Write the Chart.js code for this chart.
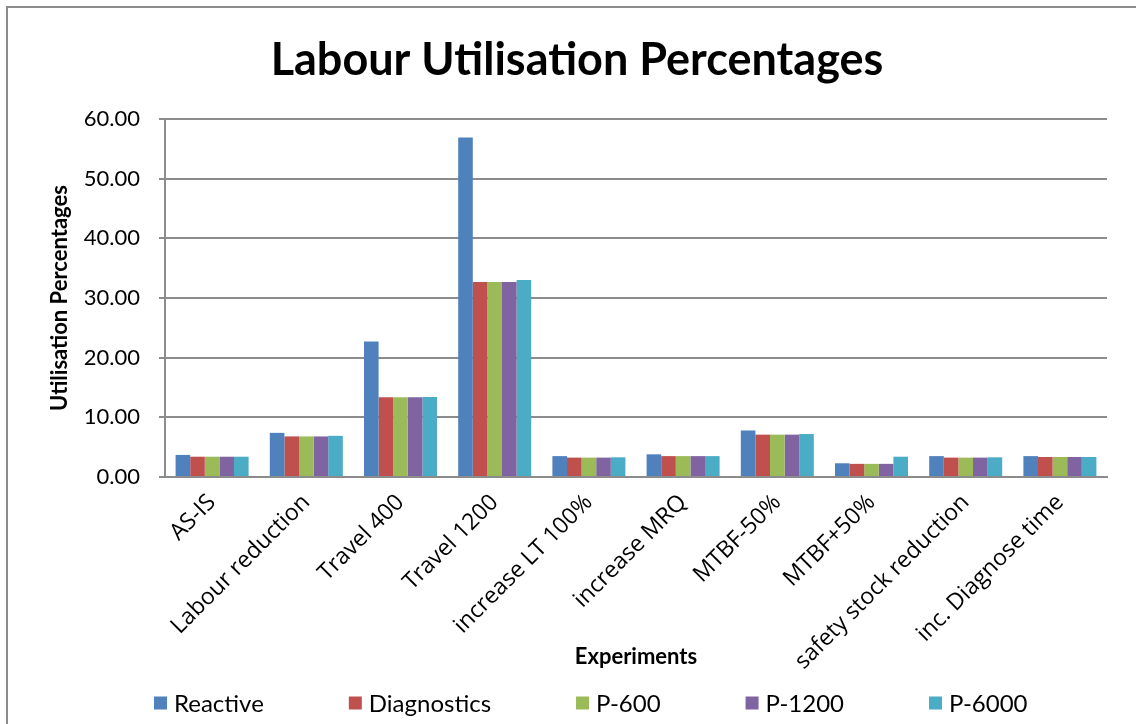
<!DOCTYPE html>
<html>
<head>
<meta charset="utf-8">
<script src="https://cdn.jsdelivr.net/npm/chart.js@4/dist/chart.umd.min.js"></script>
<style>
  html, body { margin: 0; padding: 0; background: #fff; overflow: hidden; }
  #marco { position: absolute; left: 6px; top: 6px; width: 1200px; height: 800px; border: 2px solid #8c8c8c; }
  #wrap { position: absolute; left: 0; top: 0; width: 1136px; height: 724px; }
</style>
</head>
<body>
<div id="marco"></div>
<div id="wrap"><canvas id="chartUtilizacion" width="1136" height="724"></canvas></div>
<script>
var experimentos = ['AS-IS', 'Labour reduction', 'Travel 400', 'Travel 1200', 'increase LT 100%',
                    'increase MRQ', 'MTBF-50%', 'MTBF+50%', 'safety stock reduction', 'inc. Diagnose time'];

var reactive    = [3.70, 7.40, 22.70, 56.90, 3.50, 3.80, 7.80, 2.30, 3.50, 3.50];
var diagnostics = [3.40, 6.80, 13.35, 32.70, 3.25, 3.50, 7.10, 2.20, 3.25, 3.35];
var p600        = [3.40, 6.80, 13.35, 32.70, 3.25, 3.50, 7.10, 2.20, 3.25, 3.35];
var p1200       = [3.40, 6.80, 13.35, 32.70, 3.25, 3.50, 7.10, 2.20, 3.25, 3.35];
var p6000       = [3.40, 6.90, 13.40, 33.00, 3.30, 3.50, 7.20, 3.40, 3.30, 3.35];

var colores = ['#4f81bd', '#c0504d', '#9bbb59', '#8064a2', '#4bacc6'];
var fuente = 'Lato, "Open Sans", sans-serif';
var fuenteEtiquetas = '"Open Sans", Lato, sans-serif';
var gris = '#8c8c8c';

function serie(nombre, datos, i) {
    return { label: nombre, data: datos, backgroundColor: colores[i], borderWidth: 0,
             categoryPercentage: 0.775, barPercentage: 1.0 };
}

// leyenda propia: cuadros y textos en una fila con separación fija
var leyendaFila = {
    id: 'leyendaFila',
    afterDraw: function (chart, args, opts) {
        var ctx = chart.ctx;
        ctx.save();
        ctx.font = opts.size + 'px ' + fuente;
        ctx.textBaseline = 'middle';
        var x = opts.x;
        chart.data.datasets.forEach(function (ds) {
            ctx.fillStyle = ds.backgroundColor;
            ctx.fillRect(x, opts.y - opts.box / 2, opts.box, opts.box);
            x += opts.box + 7;
            ctx.fillStyle = '#000';
            ctx.fillText(ds.label, x, opts.y + 1);
            x += ctx.measureText(ds.label).width + opts.gap;
        });
        ctx.restore();
    }
};

new Chart(document.getElementById('chartUtilizacion'), {
    type: 'bar',
    data: {
        labels: experimentos,
        datasets: [
            serie('Reactive', reactive, 0),
            serie('Diagnostics', diagnostics, 1),
            serie('P-600', p600, 2),
            serie('P-1200', p1200, 3),
            serie('P-6000', p6000, 4)
        ]
    },
    plugins: [leyendaFila],
    options: {
        responsive: false,
        animation: false,
        layout: { padding: { top: 18, right: 29, left: 47, bottom: 54 } },
        plugins: {
            title: {
                display: true,
                text: 'Labour Utilisation Percentages',
                color: '#000',
                font: { family: fuente, size: 45, weight: 'bold' },
                padding: { top: 15, bottom: 32 }
            },
            legend: { display: false },
            leyendaFila: { x: 154, y: 703, box: 13, size: 24, gap: 85 },
            tooltip: { enabled: false }
        },
        scales: {
            x: {
                afterFit: function (escala) { escala.height = 193; },
                grid: { display: false },
                border: { color: gris, width: 2 },
                ticks: { color: '#000', font: { family: fuenteEtiquetas, size: 23 }, minRotation: 45, maxRotation: 45, padding: 4 },
                title: { display: true, text: 'Experiments', color: '#000',
                         font: { family: fuente, size: 22, weight: 'bold' }, padding: 0 }
            },
            y: {
                afterFit: function (escala) { escala.width = 118; },
                min: 0, max: 60,
                grid: { color: gris, lineWidth: 2, drawTicks: true, tickLength: 6 },
                border: { color: gris, width: 2 },
                ticks: { stepSize: 10, color: '#000', font: { family: fuente, size: 22 }, padding: 19,
                         callback: function (v) { return v.toFixed(2); } },
                title: { display: true, text: 'Utilisation Percentages', color: '#000',
                         font: { family: fuente, size: 22, weight: 'bold' }, padding: 0 }
            }
        }
    }
});
</script>
</body>
</html>
